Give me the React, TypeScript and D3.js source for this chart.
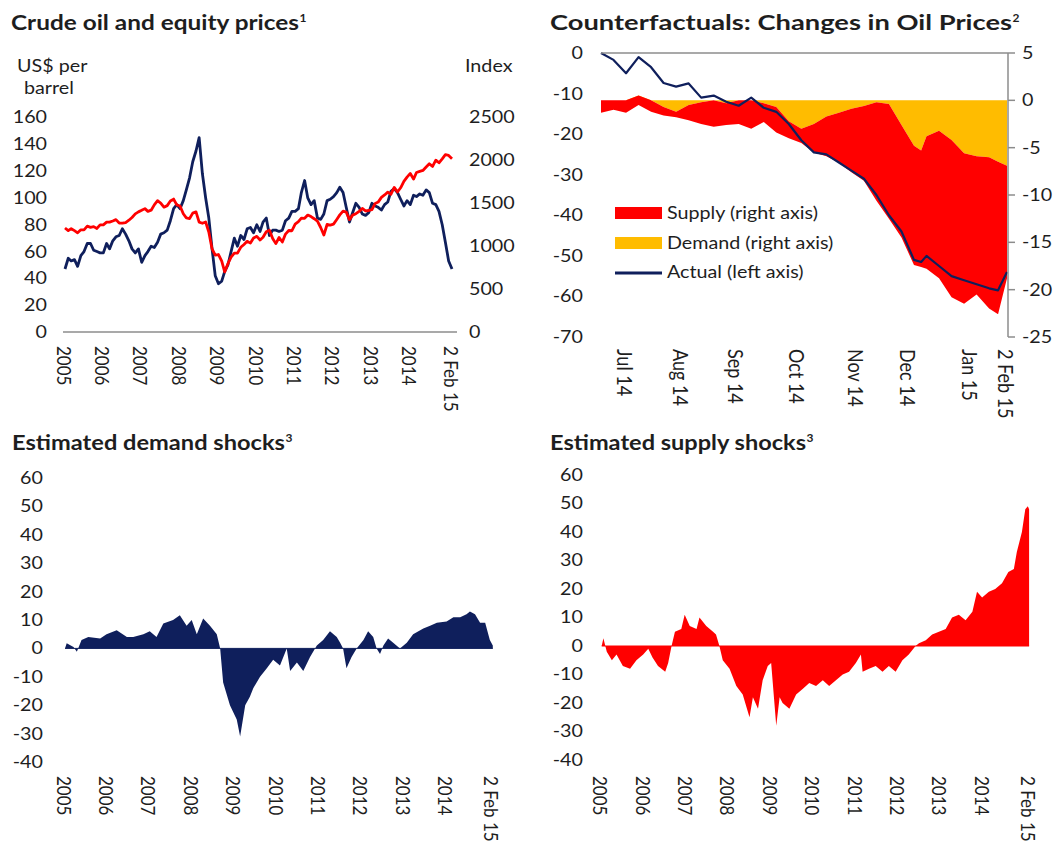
import React from "react";
import * as d3 from "d3";

// ---------- Panel 1: Crude oil and equity prices (monthly, Jan 2005 .. Jan 2015, plus 2 Feb 2015)
const oilPrices = [
  47, 55, 53, 54, 49, 57, 60, 66, 66, 61, 60, 59,
  59, 66, 62, 68, 71, 72, 77, 73, 68, 62, 59, 62,
  52, 57, 60, 64, 63, 67, 73, 74, 76, 83, 92, 95,
  92, 98, 106, 115, 127, 135, 145, 118, 100, 85, 62, 42,
  36, 38, 45, 50, 60, 70, 64, 72, 69, 77, 78, 74,
  80, 75, 82, 85, 72, 76, 76, 75, 76, 83, 85, 90,
  90, 92, 104, 113, 100, 95, 98, 85, 84, 88, 98, 99,
  101, 104, 108, 104, 93, 82, 89, 96, 93, 88, 87, 89,
  96, 94, 93, 91, 95, 97, 105, 107, 104, 99, 94, 98,
  95, 102, 101, 103, 102, 106, 104, 96, 95, 90, 80, 67,
  53, 47,
];
const equityIndex = [
  1212, 1181, 1204, 1181, 1156, 1191, 1191, 1234, 1220, 1228, 1207, 1249,
  1248, 1280, 1280, 1294, 1310, 1270, 1270, 1276, 1303, 1335, 1377, 1400,
  1418, 1438, 1406, 1420, 1482, 1530, 1503, 1455, 1473, 1526, 1549, 1481,
  1468, 1378, 1330, 1322, 1385, 1400, 1280, 1267, 1282, 1166, 968, 896,
  903, 825, 700, 797, 872, 919, 919, 987, 1020, 1057, 1036, 1095,
  1115, 1073, 1104, 1169, 1186, 1089, 1030, 1101, 1049, 1141, 1183, 1180,
  1257, 1286, 1327, 1325, 1363, 1345, 1320, 1292, 1218, 1131, 1253, 1246,
  1257, 1312, 1365, 1408, 1397, 1310, 1362, 1379, 1406, 1440, 1412, 1416,
  1426, 1498, 1514, 1569, 1597, 1630, 1606, 1685, 1632, 1681, 1756, 1805,
  1848, 1782, 1859, 1872, 1883, 1923, 1960, 1930, 2003, 1972, 2018, 2067,
  2058, 2020,
];
const oilTicks = [0, 20, 40, 60, 80, 100, 120, 140, 160];
const indexTicks = [0, 500, 1000, 1500, 2000, 2500];
const yearLabels = ["2005", "2006", "2007", "2008", "2009", "2010", "2011", "2012", "2013", "2014"];
const endLabel = "2 Feb 15";

// ---------- Panel 2: Counterfactuals
const cfDates = [
  "2014-06-20", "2014-06-27", "2014-07-04", "2014-07-11", "2014-07-18", "2014-07-25",
  "2014-08-01", "2014-08-08", "2014-08-15", "2014-08-22", "2014-08-29", "2014-09-05",
  "2014-09-12", "2014-09-19", "2014-09-26", "2014-10-03", "2014-10-10", "2014-10-17",
  "2014-10-24", "2014-10-31", "2014-11-07", "2014-11-14", "2014-11-21", "2014-11-28",
  "2014-12-05", "2014-12-12", "2014-12-16", "2014-12-19", "2014-12-26", "2015-01-02",
  "2015-01-09", "2015-01-16", "2015-01-23", "2015-01-28", "2015-02-02",
];
const cfActual = [
  0, -1.7, -5, -1, -3.5, -7.4, -8.3, -7.5, -11, -10.5, -12, -13, -11, -13.5, -14.5,
  -17.5, -21.5, -24.5, -25, -27, -29, -31, -35, -40, -44, -51, -51.5, -50, -52.5,
  -55, -56, -57, -58, -58.5, -54,
];
const cfDemand = [
  0, 0, 0, 0.5, 0, -0.7, -1.2, -0.5, -0.2, 0, -0.3, 0, 0, -0.3, -0.7, -2.2, -3.0,
  -2.5, -1.7, -1.3, -0.9, -0.6, -0.2, -0.4, -2.6, -4.8, -5.3, -3.8, -3.2, -4.2, -5.6,
  -5.9, -6.0, -6.5, -6.9,
];
const cfSupply = [
  -1.3, -1.0, -1.3, -1.0, -1.2, -0.9, -0.6, -1.6, -2.3, -2.8, -2.3, -2.5, -3.0, -2.0,
  -2.7, -1.8, -1.5, -3.0, -4.2, -5.3, -6.7, -7.9, -10.4, -12.1, -11.9, -12.6, -12.3,
  -14.0, -15.6, -16.6, -15.9, -14.6, -16.0, -16.1, -11.9,
];
const cfLeftTicks = [0, -10, -20, -30, -40, -50, -60, -70];
const cfRightTicks = [5, 0, -5, -10, -15, -20, -25];
const cfTickDates = ["2014-07-04", "2014-08-04", "2014-09-04", "2014-10-08", "2014-11-10", "2014-12-09", "2015-01-13", "2015-02-02"];
const cfTickLabels = ["Jul 14", "Aug 14", "Sep 14", "Oct 14", "Nov 14", "Dec 14", "Jan 15", "2 Feb 15"];
const legendLabels = ["Supply (right axis)", "Demand (right axis)", "Actual (left axis)"];

// ---------- Panel 3: Estimated demand shocks (decimal years)
const demandYears = [
  2005.0, 2005.04, 2005.2, 2005.28, 2005.39, 2005.55, 2005.83, 2005.98, 2006.22, 2006.46,
  2006.61, 2006.85, 2007.0, 2007.16, 2007.32, 2007.55, 2007.71, 2007.87, 2007.99, 2008.11,
  2008.26, 2008.42, 2008.58, 2008.66, 2008.73, 2008.89, 2009.05, 2009.13, 2009.25, 2009.36,
  2009.44, 2009.6, 2009.76, 2009.91, 2010.07, 2010.23, 2010.31, 2010.47, 2010.62, 2010.78,
  2010.86, 2010.94, 2011.09, 2011.25, 2011.41, 2011.49, 2011.56, 2011.64, 2011.76, 2011.88,
  2012.04, 2012.15, 2012.27, 2012.35, 2012.43, 2012.51, 2012.62, 2012.74, 2012.9, 2013.06,
  2013.21, 2013.45, 2013.61, 2013.77, 2014.0, 2014.16, 2014.32, 2014.47, 2014.55, 2014.67,
  2014.79, 2014.91, 2015.02, 2015.09,
];
const demandShocks = [
  0, 1.8, 0.5, -1.2, 3, 4, 3.5, 5, 6.4, 4,
  4, 5, 6, 4, 8.8, 10, 11.7, 8, 10, 5,
  10.5, 8, 5, 0, -12, -20, -25, -31, -20, -17,
  -14, -10, -7, -4, -6, 0, -8, -5, -8, -3,
  -1, 1, 3, 6, 4, 2, 0, -7, -3, 0,
  3, 6, 4, 0, -2, 1, 3.5, 2, 0, 2,
  5, 7, 8, 9, 9.5, 11, 11, 12, 13, 12,
  9, 9, 3, 1,
];

// ---------- Panel 4: Estimated supply shocks (decimal years)
const supplyYears = [
  2005.0, 2005.04, 2005.12, 2005.24, 2005.35, 2005.5, 2005.67, 2005.82, 2005.98, 2006.1,
  2006.2, 2006.33, 2006.5, 2006.57, 2006.65, 2006.73, 2006.88, 2006.96, 2007.08, 2007.24,
  2007.31, 2007.47, 2007.63, 2007.7, 2007.78, 2007.86, 2008.02, 2008.18, 2008.33, 2008.49,
  2008.57, 2008.69, 2008.8, 2008.92, 2009.0, 2009.12, 2009.2, 2009.27, 2009.43, 2009.59,
  2009.75, 2009.9, 2010.06, 2010.22, 2010.37, 2010.53, 2010.69, 2010.84, 2011.0, 2011.12,
  2011.16, 2011.31, 2011.47, 2011.63, 2011.78, 2011.94, 2012.1, 2012.25, 2012.41, 2012.49,
  2012.65, 2012.8, 2012.96, 2013.12, 2013.27, 2013.43, 2013.59, 2013.75, 2013.86, 2013.98,
  2014.14, 2014.29, 2014.45, 2014.6, 2014.73, 2014.8, 2014.92, 2015.0, 2015.06, 2015.09,
];
const supplyShocks = [
  0, 2.7, -2, -5, -3, -7, -8, -5, -3, -1,
  -4, -7, -9, -6, 0, 5, 6, 11, 7, 6,
  10, 7, 5, 4, 0, -5, -8, -14, -17, -25,
  -18, -22, -12, -7, -6, -28, -18, -20, -22, -17,
  -15, -13, -14, -12, -14, -12, -10, -9, -6, -3,
  -9, -8, -7, -9, -7, -9, -5, -3, 0, 1,
  2, 4, 5, 6, 10, 11, 9, 12, 19, 17,
  19, 20, 22, 26, 27, 33, 40, 48, 49, 48,
];
const shockTicks = [60, 50, 40, 30, 20, 10, 0, -10, -20, -30, -40];

// ---------- style
const FONT = "Lato, 'Open Sans', sans-serif";
const TEXT = "#1e1e1e";
const NAVY = "#0f1f5c";
const RED = "#ff0000";
const ORANGE = "#ffbc00";
const AXIS = "#8c8c8c";
const TICK_SIZE = 17;
const SX = 1.16; // horizontal stretch of the reference's lettering

const fromYear = (v: number) => {
  const y = Math.floor(v + 1e-9);
  const s = new Date(y, 0, 1).getTime();
  const e = new Date(y + 1, 0, 1).getTime();
  return new Date(s + (v - y) * (e - s));
};
const parse = (s: string) => {
  const [y, m, d] = s.split("-").map(Number);
  return new Date(y, m - 1, d);
};
const START = new Date(2005, 0, 1);
const END = new Date(2015, 1, 2);
const monthlyDates = oilPrices.map((_, i) => (i < oilPrices.length - 1 ? new Date(2005, i, 1) : END));
const yearDates = yearLabels.map((y) => new Date(+y, 0, 1));

function Title({ x, y, text, sup, width }: { x: number; y: number; text: string; sup: string; width: number }) {
  return (
    <g fontFamily={FONT} fill={TEXT}>
      <text x={x} y={y} fontWeight={700} fontSize={20} textLength={width} lengthAdjust="spacingAndGlyphs">
        {text}
      </text>
      <text x={x + width + 0.5} y={y - 8} fontWeight={700} fontSize={12}>
        {sup}
      </text>
    </g>
  );
}

function SText({ x, y, children, anchor = "start", dy = "0.35em", size = TICK_SIZE }: any) {
  return (
    <text transform={`translate(${x},${y}) scale(${SX},1)`} textAnchor={anchor} dy={dy} fontSize={size}>
      {children}
    </text>
  );
}

function XLabels({ x, dates, labels, top, size = TICK_SIZE }: { x: (d: Date) => number; dates: Date[]; labels: string[]; top: number; size?: number }) {
  return (
    <g fontFamily={FONT} fontSize={size} fill={TEXT}>
      {labels.map((l, i) => (
        <text key={l} transform={`translate(${x(dates[i])},${top}) scale(${SX},1) rotate(90)`} dy="0.42em">
          {l}
        </text>
      ))}
    </g>
  );
}

function YLabels({ y, ticks, xPos, anchor }: { y: (v: number) => number; ticks: number[]; xPos: number; anchor: string }) {
  return (
    <g fontFamily={FONT} fill={TEXT}>
      {ticks.map((t) => (
        <SText key={t} x={xPos} y={y(t)} anchor={anchor}>
          {String(t)}
        </SText>
      ))}
    </g>
  );
}

function Panel1() {
  const x = d3.scaleTime().domain([START, END]).range([65, 452]);
  const yL = d3.scaleLinear().domain([0, 160]).range([332, 117.5]);
  const yR = d3.scaleLinear().domain([0, 2500]).range([332, 117.5]);
  const oilLine = d3.line<number>().x((_, i) => x(monthlyDates[i])).y((v) => yL(v));
  const eqLine = d3.line<number>().x((_, i) => x(monthlyDates[i])).y((v) => yR(v));
  return (
    <g>
      <Title x={11} y={30} text="Crude oil and equity prices" sup="1" width={288} />
      <g fontFamily={FONT} fill={TEXT}>
        <SText x={17} y={66}>US$ per</SText>
        <SText x={24} y={88}>barrel</SText>
        <SText x={465} y={66}>Index</SText>
      </g>
      <YLabels y={yL} ticks={oilTicks} xPos={47} anchor="end" />
      <YLabels y={yR} ticks={indexTicks} xPos={469} anchor="start" />
      <line x1={63} x2={457} y1={yL(0)} y2={yL(0)} stroke={AXIS} strokeWidth={1.5} />
      <path d={oilLine(oilPrices) || ""} fill="none" stroke={NAVY} strokeWidth={2.8} strokeLinejoin="round" />
      <path d={eqLine(equityIndex) || ""} fill="none" stroke={RED} strokeWidth={2.8} strokeLinejoin="round" />
      <XLabels x={x} dates={[...yearDates, END]} labels={[...yearLabels, endLabel]} top={346} />
    </g>
  );
}

function Panel2() {
  const dates = cfDates.map(parse);
  const x = d3.scaleTime().domain([dates[0], dates[dates.length - 1]]).range([601, 1007]);
  const yL = d3.scaleLinear().domain([-70, 0]).range([337, 53]);
  const yR = d3.scaleLinear().domain([-25, 5]).range([337, 53]);
  const demandArea = d3
    .area<number>()
    .x((_, i) => x(dates[i]))
    .y0(() => yR(0))
    .y1((v) => yR(v));
  const supplyArea = d3
    .area<number>()
    .x((_, i) => x(dates[i]))
    .y0((_, i) => yR(cfDemand[i]))
    .y1((v, i) => yR(cfDemand[i] + v));
  const actualLine = d3.line<number>().x((_, i) => x(dates[i])).y((v) => yL(v));
  const axisX = 1008;
  return (
    <g>
      <Title x={550} y={30} text="Counterfactuals: Changes in Oil Prices" sup="2" width={462} />
      <path d={demandArea(cfDemand) || ""} fill={ORANGE} />
      <path d={supplyArea(cfSupply) || ""} fill={RED} />
      <path d={actualLine(cfActual) || ""} fill="none" stroke={NAVY} strokeWidth={2.2} strokeLinejoin="round" />
      <line x1={601} x2={axisX} y1={yL(0)} y2={yL(0)} stroke={AXIS} strokeWidth={1.5} />
      <line x1={axisX} x2={axisX} y1={yR(5)} y2={yR(-25)} stroke={AXIS} strokeWidth={1.5} />
      {cfRightTicks.map((t) => (
        <line key={t} x1={axisX} x2={axisX + 7} y1={yR(t)} y2={yR(t)} stroke={AXIS} strokeWidth={1.5} />
      ))}
      <YLabels y={yL} ticks={cfLeftTicks} xPos={583} anchor="end" />
      <YLabels y={yR} ticks={cfRightTicks} xPos={1022} anchor="start" />
      <XLabels x={x} dates={cfTickDates.map(parse)} labels={cfTickLabels} top={349} size={18} />
      <g fontFamily={FONT} fill={TEXT}>
        <rect x={615} y={207} width={47} height={12} fill={RED} />
        <SText x={667} y={213}>{legendLabels[0]}</SText>
        <rect x={615} y={237} width={47} height={12} fill={ORANGE} />
        <SText x={667} y={243}>{legendLabels[1]}</SText>
        <line x1={615} x2={662} y1={273} y2={273} stroke={NAVY} strokeWidth={3} />
        <SText x={667} y={272}>{legendLabels[2]}</SText>
      </g>
    </g>
  );
}

function ShockPanel({ title, titleWidth, years, values, color, x0, x1, yTop, yBot, labelX, titleX }: any) {
  const x = d3.scaleTime().domain([START, END]).range([x0, x1]);
  const y = d3.scaleLinear().domain([-40, 60]).range([yBot, yTop]);
  const dates = (years as number[]).map(fromYear);
  const area = d3
    .area<number>()
    .x((_, i) => x(dates[i]))
    .y0(() => y(0))
    .y1((v) => y(v));
  return (
    <g>
      <Title x={titleX} y={450} text={title} sup="3" width={titleWidth} />
      <path d={area(values) || ""} fill={color} />
      <line x1={x(dates[0])} x2={x(dates[dates.length - 1])} y1={y(0)} y2={y(0)} stroke={color} strokeWidth={1} />
      <YLabels y={y} ticks={shockTicks} xPos={labelX} anchor="end" />
      <XLabels x={x} dates={[...yearDates, END]} labels={[...yearLabels, endLabel]} top={776} />
    </g>
  );
}

export default function App() {
  return (
    <svg width={1059} height={850} style={{ position: "absolute", left: 0, top: 0, background: "#fff" }}>
      <rect width={1059} height={850} fill="#fff" />
      <Panel1 />
      <Panel2 />
      <ShockPanel
        title="Estimated demand shocks"
        titleWidth={273}
        years={demandYears}
        values={demandShocks}
        color={NAVY}
        x0={65}
        x1={492.7}
        yTop={478}
        yBot={762}
        labelX={43}
        titleX={12}
      />
      <ShockPanel
        title="Estimated supply shocks"
        titleWidth={256}
        years={supplyYears}
        values={supplyShocks}
        color={RED}
        x0={601.7}
        x1={1029}
        yTop={475}
        yBot={760}
        labelX={583}
        titleX={550}
      />
    </svg>
  );
}
